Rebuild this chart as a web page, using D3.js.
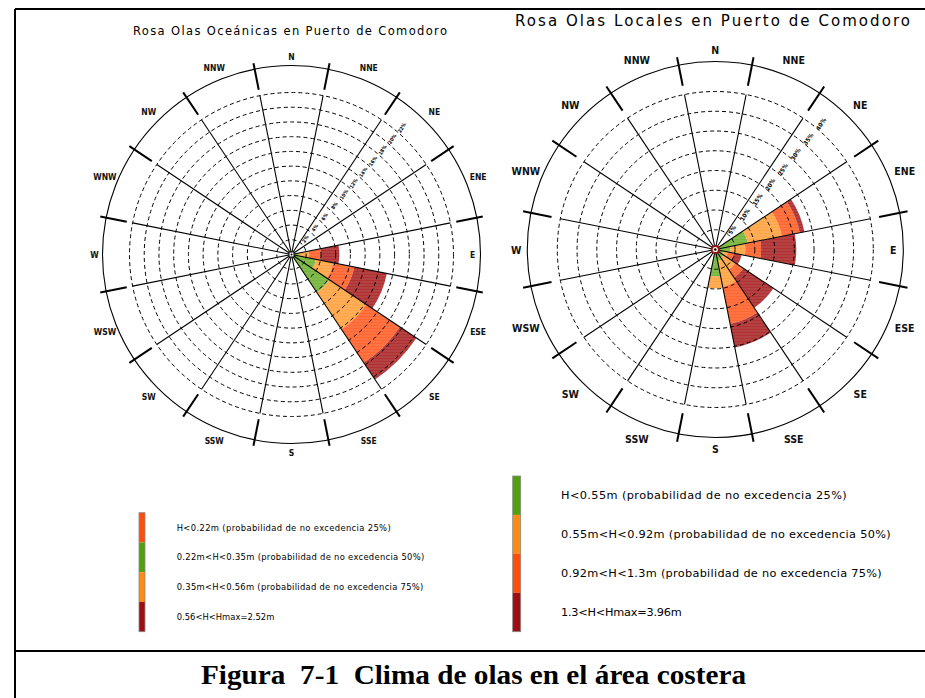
<!DOCTYPE html>
<html><head><meta charset="utf-8">
<script src="https://cdn.jsdelivr.net/npm/d3@7"></script>
<style>body{margin:0;background:#fff}svg{display:block}</style>
</head><body>
<svg id="c" width="925" height="698"></svg>
<script>
// ---------------- DATA ----------------
const directions = ["N","NNE","NE","ENE","E","ESE","SE","SSE","S","SSW","SW","WSW","W","WNW","NW","NNW"];

// Left rose: Oceanic waves (percent of time per direction, per height class)
const leftTitle = "Rosa Olas Oceánicas en Puerto de Comodoro";
const leftDirs   = ["E", "ESE", "SE"];
const leftGreen  = [1.0, 3.4, 6.2];
const leftOrange = [1.4, 2.4, 6.0];
const leftRed    = [1.6, 2.9, 5.5];
const leftDark   = [2.5, 4.5, 2.7];
const leftTicks  = [2, 4, 6, 8, 10, 12, 14, 16, 18, 20, 22];
const leftTickLabels = ["2%","4%","6%","8%","10%","12%","14%","16%","18%","20%","22%"];
const leftLegendLabels = [
  "H<0.22m  (probabilidad  de  no  excedencia  25%)",
  "0.22m<H<0.35m  (probabilidad  de  no  excedencia  50%)",
  "0.35m<H<0.56m  (probabilidad  de  no  excedencia  75%)",
  "0.56<H<Hmax=2.52m"
];

// Right rose: Local waves
const rightTitle = "Rosa Olas Locales en Puerto de Comodoro";
const rightDirs   = ["ENE", "E", "ESE", "SE", "SSE", "S"];
const rightGreen  = [8.4, 3.8, 2.0, 2.5, 3.0, 6.8];
const rightOrange = [8.8, 3.8, 1.3, 3.6, 6.6, 3.1];
const rightRed    = [4.6, 4.0, 1.5, 2.5, 9.6, 0];
const rightDark   = [1.2, 8.9, 2.0, 9.1, 6.1, 0];
const rightTicks  = [5, 10, 15, 20, 25, 30, 35, 40];
const rightTickLabels = ["5%","10%","15%","20%","25%","30%","35%","40%"];
const rightLegendLabels = [
  "H<0.55m  (probabilidad  de  no  excedencia  25%)",
  "0.55m<H<0.92m  (probabilidad  de  no  excedencia  50%)",
  "0.92m<H<1.3m  (probabilidad  de  no  excedencia  75%)",
  "1.3<H<Hmax=3.96m"
];

const caption = "Figura  7-1  Clima de olas en el área costera";

// ---------------- STYLE / LAYOUT ----------------
const bandColors = ["#6bb02e", "#ffa038", "#ff5a22", "#a81f22"];
const legendColorsLeft  = ["#ff4e0c", "#52a010", "#ff8a16", "#a00c14"];
const legendColorsRight = ["#52a010", "#ff8a16", "#ff4e0c", "#a00c14"];

const svg = d3.select("#c");
const defs = svg.append("defs");
const pat = defs.append("pattern").attr("id","stripes").attr("patternUnits","userSpaceOnUse")
  .attr("width",6).attr("height",3);
pat.append("rect").attr("width",6).attr("height",1).attr("fill","#fff").attr("opacity",0.16);

// Frame
const frame = svg.append("g").attr("stroke","#000").attr("stroke-width",2);
frame.append("line").attr("x1",15).attr("y1",9).attr("x2",925).attr("y2",9);
frame.append("line").attr("x1",15).attr("y1",9).attr("x2",15).attr("y2",698);
frame.append("line").attr("x1",15).attr("y1",651).attr("x2",925).attr("y2",651);

const angle = d3.scalePoint().domain(directions).range([0, 337.5]);
const rad = d => d * Math.PI / 180;
const half = 11.25;

function drawRose(cfg, dirs, bands, ticks, tickLabels) {
  const g = svg.append("g").attr("transform", `translate(${cfg.cx},${cfg.cy})`);
  const r = d3.scaleLinear().domain([0, ticks[ticks.length-1]]).range([0, cfg.ringR]);
  const arc = d3.arc();
  const sectors = [];
  dirs.forEach((d, i) => {
    let cum = 0;
    bands.forEach((b, k) => {
      const v = b[i];
      if (v > 0) sectors.push({d, k, r0: r(cum), r1: r(cum + v)});
      cum += v;
    });
  });
  const sg = g.append("g");
  const sectorPath = s => arc({innerRadius: s.r0, outerRadius: s.r1,
        startAngle: rad(angle(s.d) - half), endAngle: rad(angle(s.d) + half)});
  sg.selectAll("path.s").data(sectors).join("path").attr("class","s")
    .attr("d", sectorPath).attr("fill", s => bandColors[s.k]).attr("opacity", 0.92);
  sg.selectAll("path.t").data(sectors).join("path").attr("class","t")
    .attr("d", sectorPath).attr("fill", "url(#stripes)");
  // dashed rings
  g.selectAll("circle.ring").data(ticks).join("circle").attr("class","ring")
    .attr("r", t => r(t)).attr("fill","none").attr("stroke","#000")
    .attr("stroke-width",1).attr("stroke-dasharray","4,3");
  // radial lines
  g.selectAll("line.rad").data(directions).join("line").attr("class","rad")
    .attr("x1",0).attr("y1",0)
    .attr("x2", d => r.range()[1] * Math.sin(rad(angle(d) + half)))
    .attr("y2", d => -r.range()[1] * Math.cos(rad(angle(d) + half)))
    .attr("stroke","#000").attr("stroke-width",1.1);
  // outer circle
  g.append("circle").attr("r", cfg.R).attr("fill","none").attr("stroke","#000").attr("stroke-width",1.1);
  // outer ticks
  g.selectAll("line.tk").data(directions).join("line").attr("class","tk")
    .attr("x1", d => cfg.tickR0 * Math.sin(rad(angle(d) + half)))
    .attr("y1", d => -cfg.tickR0 * Math.cos(rad(angle(d) + half)))
    .attr("x2", d => cfg.tickR1 * Math.sin(rad(angle(d) + half)))
    .attr("y2", d => -cfg.tickR1 * Math.cos(rad(angle(d) + half)))
    .attr("stroke","#000").attr("stroke-width",2);
  // ring labels
  g.selectAll("text.rl").data(ticks).join("text").attr("class","rl")
    .attr("transform", (t) => {
      const rr = r(t) + cfg.tickLabelOff;
      const a = rad(cfg.tickLabelAngle);
      return `translate(${rr*Math.sin(a)},${-rr*Math.cos(a)}) rotate(${cfg.tickLabelRot})`;
    })
    .attr("text-anchor","middle").attr("dominant-baseline","central")
    .attr("font-family","'DejaVu Sans Condensed','DejaVu Sans',sans-serif")
    .attr("font-weight","bold").attr("font-size", cfg.tickLabelSize)
    .text((t, i) => tickLabels[i]);
  // direction labels
  g.selectAll("text.dl").data(directions).join("text").attr("class","dl")
    .attr("x", d => (cfg.labelOverride[d] || cfg.labelR) * Math.sin(rad(angle(d))))
    .attr("y", d => -(cfg.labelOverride[d] || cfg.labelR) * Math.cos(rad(angle(d))))
    .attr("text-anchor","middle").attr("dominant-baseline","central")
    .attr("font-family","'Liberation Sans Narrow','DejaVu Sans Condensed',sans-serif")
    .attr("font-weight","bold").attr("font-size", cfg.labelSize).attr("fill","#111")
    .text(d => d);
  return g;
}

const gl = drawRose({cx:291.5, cy:254.5, R:189, ringR:162, tickR0:168, tickR1:195,
  labelR:202, labelOverride:{N:198, S:198, E:181, W:197}, labelSize:8.5,
  tickLabelAngle:41, tickLabelOff:6, tickLabelRot:-57, tickLabelSize:5},
  leftDirs, [leftGreen, leftOrange, leftRed, leftDark], leftTicks, leftTickLabels);
gl.append("rect").attr("x",-2.5).attr("y",-2.5).attr("width",5).attr("height",5)
  .attr("fill","#fff").attr("stroke","#000").attr("stroke-width",1);
gl.append("circle").attr("r",1).attr("fill","#000");

const gr = drawRose({cx:715.3, cy:249.5, R:188, ringR:158, tickR0:167, tickR1:196,
  labelR:205, labelOverride:{N:200, S:199, E:178, W:199}, labelSize:10.5,
  tickLabelAngle:40, tickLabelOff:6, tickLabelRot:-57, tickLabelSize:6},
  rightDirs, [rightGreen, rightOrange, rightRed, rightDark], rightTicks, rightTickLabels);
gr.append("circle").attr("r",3.6).attr("fill","#fff").attr("stroke","#a01010").attr("stroke-width",2);
gr.append("circle").attr("r",1.3).attr("fill","#000");

// Titles
const tfont = "'DejaVu Sans',sans-serif";
svg.append("text").attr("x",133).attr("y",35).attr("font-family",tfont).attr("font-size",11.5)
  .attr("textLength",314).attr("lengthAdjust","spacing").text(leftTitle);
svg.append("text").attr("x",515).attr("y",25.5).attr("font-family",tfont).attr("font-size",15)
  .attr("textLength",395).attr("lengthAdjust","spacing").text(rightTitle);

// Legends
function drawLegend(cfg, labels, colors) {
  const y = d3.scaleBand().domain(labels).range([cfg.y0, cfg.y1]);
  const g = svg.append("g");
  g.selectAll("rect").data(labels).join("rect")
    .attr("x", cfg.x).attr("y", d => y(d)).attr("width", cfg.w).attr("height", y.bandwidth())
    .attr("fill", (d, i) => colors[i]);
  g.append("rect").attr("x", cfg.x).attr("y", cfg.y0).attr("width", cfg.w).attr("height", cfg.y1 - cfg.y0)
    .attr("fill","none").attr("stroke","#888").attr("stroke-width",0.8);
  g.selectAll("text").data(labels).join("text")
    .attr("x", cfg.tx).attr("y", d => y(d) + y.bandwidth()/2)
    .attr("dominant-baseline","central")
    .attr("font-family", tfont).attr("font-size", cfg.fs)
    .attr("textLength", (d, i) => cfg.widths[i]).attr("lengthAdjust","spacing")
    .text(d => d.replace(/\s+/g, " "));
}
drawLegend({x:139, w:6, y0:512.7, y1:631.7, tx:176.7, fs:8.4, widths:[214, 247.6, 246.6, 97.6]},
  leftLegendLabels, legendColorsLeft);
drawLegend({x:512.7, w:8, y0:476, y1:631.7, tx:561, fs:11.3, widths:[285.7, 329.7, 320.7, 120.7]},
  rightLegendLabels, legendColorsRight);

// Caption
svg.append("text").attr("x",201).attr("y",684)
  .attr("font-family","'Liberation Serif','Times New Roman',serif").attr("font-weight","bold")
  .attr("font-size",27).attr("textLength",545).attr("lengthAdjust","spacingAndGlyphs")
  .style("white-space","pre")
  .text(caption);
</script>
</body></html>
